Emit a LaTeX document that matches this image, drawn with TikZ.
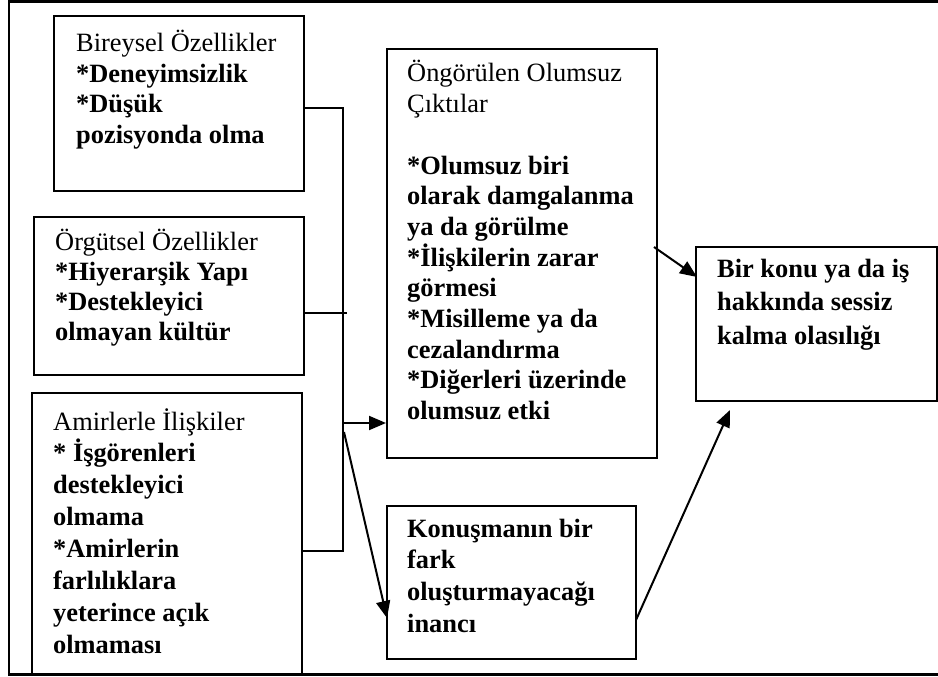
\documentclass[tikz,border=0pt]{standalone}
\usepackage{fontspec}
\setmainfont{Liberation Serif}
\usetikzlibrary{arrows.meta}
\newcommand\txtlines[2]{\vtop{\baselineskip=#1\lineskiplimit=-30pt\lineskip=0pt\halign{##\hfil\cr #2\crcr}}}
\begin{document}
\begin{tikzpicture}[x=1pt,y=-1pt,
  box/.style={draw,line width=2pt,inner sep=0pt},
  txt/.style={anchor=base west,inner sep=0pt,font=\fontsize{26.4}{30.5}\selectfont},
  conn/.style={line width=2pt},
  arr/.style={line width=2pt,-{Triangle[length=17pt,width=14pt]}}]
\useasboundingbox (0,0) rectangle (938,677);
% outer frame
\draw[line width=2.2pt] (938,1.5) -- (9,1.5) -- (9,674.5) -- (938,674.5);
% boxes
\node[box,minimum width=250pt,minimum height=175pt] (bir) at (179,103.5) {};
\node[box,minimum width=270pt,minimum height=158pt] (org) at (169,296) {};
\node[box,minimum width=270pt,minimum height=281.5pt] (ami) at (167,533.75) {};
\node[box,minimum width=270pt,minimum height=409pt] (ong) at (522,253.5) {};
\node[box,minimum width=249pt,minimum height=153pt] (kon) at (511.5,582.5) {};
\node[box,minimum width=240.5pt,minimum height=154pt] (sil) at (816.25,324) {};
% texts
\node[txt] (tbir) at (76,52) {\txtlines{30.5pt}{Bireysel Özellikler\cr \bfseries *Deneyimsizlik\cr \bfseries *Düşük\cr \bfseries pozisyonda olma}};
\node[txt] (torg) at (55,250) {\txtlines{30pt}{Örgütsel Özellikler\cr \bfseries *Hiyerarşik Yapı\cr \bfseries *Destekleyici\cr \bfseries olmayan kültür}};
\node[txt] (tami) at (53,430) {\txtlines{31.9pt}{Amirlerle İlişkiler\cr \bfseries * İşgörenleri\cr \bfseries destekleyici\cr \bfseries olmama\cr \bfseries *Amirlerin\cr \bfseries farlılıklara\cr \bfseries yeterince açık\cr \bfseries olmaması}};
\node[txt] (tong) at (407,82) {\txtlines{30.7pt}{Öngörülen Olumsuz\cr Çıktılar\cr \cr \bfseries *Olumsuz biri\cr \bfseries olarak damgalanma\cr \bfseries ya da görülme\cr \bfseries *İlişkilerin zarar\cr \bfseries görmesi\cr \bfseries *Misilleme ya da\cr \bfseries cezalandırma\cr \bfseries *Diğerleri üzerinde\cr \bfseries olumsuz etki}};
\node[txt] (tkon) at (407,537) {\txtlines{31.7pt}{\bfseries Konuşmanın bir\cr \bfseries fark\cr \bfseries oluşturmayacağı\cr \bfseries inancı}};
\node[txt] (tsil) at (717,277) {\txtlines{33.5pt}{\bfseries Bir konu ya da iş\cr \bfseries hakkında sessiz\cr \bfseries kalma olasılığı}};
% junction coordinates
\coordinate (j1) at (343,108);
\coordinate (j2) at (347,313);
\coordinate (j3) at (343,551);
\coordinate (jA) at (343,423);
\coordinate (jB) at (344,432);
\coordinate (kt) at (387,618);
\coordinate (os) at (654,247);
\coordinate (st) at (697,277);
\coordinate (ks) at (636,620);
\coordinate (se) at (730,410);
% connectors
\draw[conn] (bir.east |- j1) -- (j1) -- (j3) -- (ami.east |- j3);
\draw[conn] (org.east |- j2) -- (j2);
\draw[arr] (jA) -- (ong.west |- jA);
\draw[arr] (jB) -- (kt);
\draw[arr] (os) -- (st);
\draw[arr] (ks) -- (se);
\end{tikzpicture}
\end{document}
